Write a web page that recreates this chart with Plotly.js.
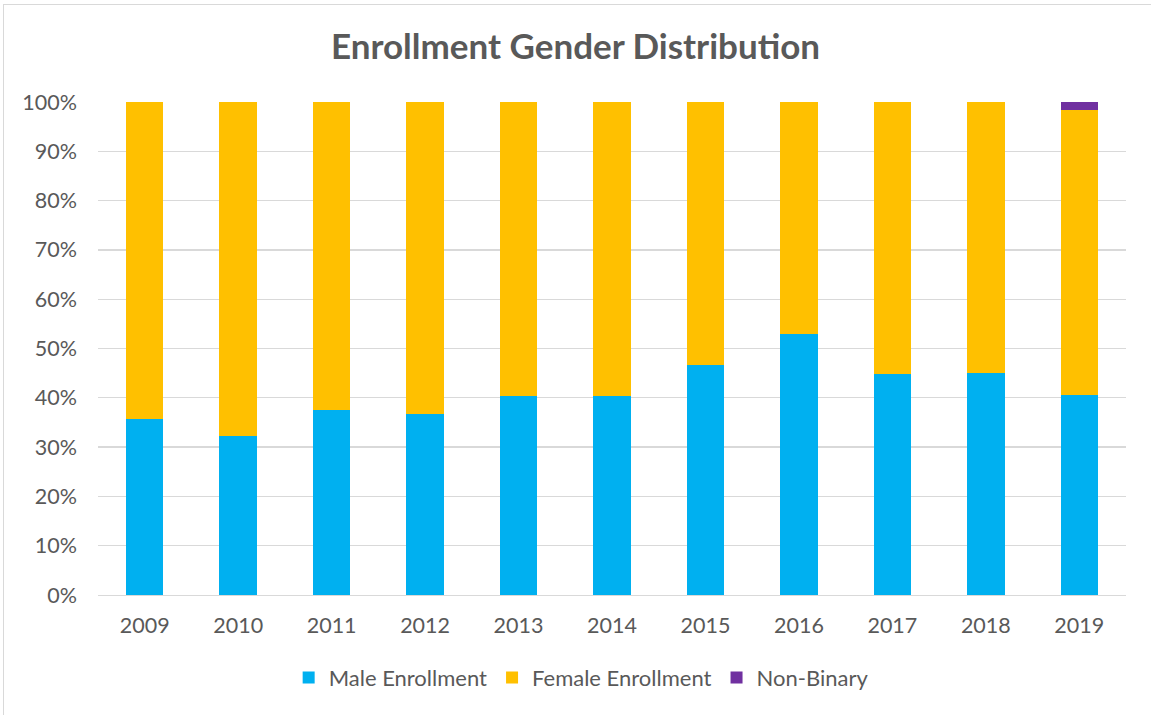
<!DOCTYPE html>
<html><head><meta charset="utf-8">
<script src="https://cdn.plot.ly/plotly-3.0.1.min.js"></script>
<style>
html,body{margin:0;padding:0;background:#fff;overflow:hidden;}
#frame{position:absolute;left:3px;top:4px;width:1160px;height:730px;border:1px solid #d9d9d9;box-sizing:border-box;}
#chart{position:absolute;left:0;top:0;width:1151px;height:715px;}
</style></head>
<body>
<div id="frame"></div>
<div id="chart"></div>
<script>
const years = ['2009','2010','2011','2012','2013','2014','2015','2016','2017','2018','2019'];
const male = [35.7, 32.2, 37.6, 36.7, 40.35, 40.4, 46.7, 52.9, 44.8, 45.1, 40.55];
const female = [64.3, 67.8, 62.4, 63.3, 59.65, 59.6, 53.3, 47.1, 55.2, 54.9, 57.85];
const nonBinary = [0, 0, 0, 0, 0, 0, 0, 0, 0, 0, 1.6];
const yTicks = [0,10,20,30,40,50,60,70,80,90,100];
const yTickText = yTicks.map(v => v + '%');

const font = 'Lato, "Open Sans", sans-serif';
const traces = [
  {type:'bar', name:'Male Enrollment', x:years, y:male, marker:{color:'#00b0f0'}},
  {type:'bar', name:'Female Enrollment', x:years, y:female, marker:{color:'#ffc000'}},
  {type:'bar', name:'Non-Binary', x:years, y:nonBinary, marker:{color:'#7030a0'}}
];
const layout = {
  width:1151, height:715,
  barmode:'stack', bargap:0.6,
  paper_bgcolor:'rgba(0,0,0,0)', plot_bgcolor:'rgba(0,0,0,0)',
  margin:{l:98, r:25, t:102, b:120},
  title:{text:'<b>Enrollment Gender Distribution</b>', x:0.5, xanchor:'center', y:0.935, yanchor:'middle',
         font:{family:font, size:35, color:'#595959'}},
  xaxis:{type:'category', showgrid:false, zeroline:false, showline:true, linecolor:'#d9d9d9', linewidth:1,
         ticks:'', tickfont:{family:font, size:21.5, color:'#595959'}, ticklabelstandoff:11, fixedrange:true},
  yaxis:{range:[0,100], tickvals:yTicks, ticktext:yTickText, showgrid:true, gridcolor:'#d9d9d9', gridwidth:1.3,
         zeroline:false, showline:false, ticks:'', tickfont:{family:font, size:21.5, color:'#595959'},
         ticklabelstandoff:20, fixedrange:true},
  legend:{orientation:'h', x:0.47, xanchor:'center', y:-0.168, yanchor:'middle', traceorder:'normal',
          font:{family:font, size:22, color:'#595959'}, itemwidth:30},
  showlegend:true
};
Plotly.newPlot('chart', traces, layout, {displayModeBar:false, staticPlot:true});
</script>
</body></html>
